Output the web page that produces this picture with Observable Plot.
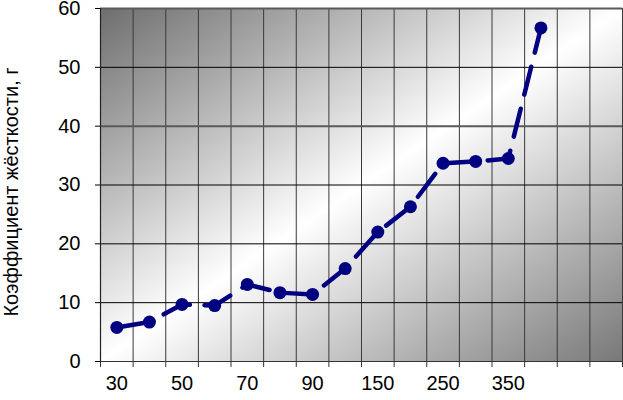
<!DOCTYPE html>
<html>
<head>
<meta charset="utf-8">
<script src="https://cdn.jsdelivr.net/npm/d3@7"></script>
<script src="https://cdn.jsdelivr.net/npm/@observablehq/plot@0.6"></script>
<style>
  html, body { margin: 0; padding: 0; background: #ffffff; }
  #chart { width: 623px; height: 400px; }
  #chart svg text { font-size: 20px !important; font-family: 'Liberation Sans', Arial, sans-serif !important; fill: #000; }
</style>
</head>
<body>
<div id="chart"></div>
<script>
// Categories along x (16 bands; the last two are empty)
const categories = ["30", "40", "50", "60", "70", "80", "90", "100", "150", "200", "250", "300", "350", "400", "450", "500"];
// Measured stiffness values, one per leading category
const stiffness = [5.8, 6.7, 9.7, 9.5, 13.1, 11.7, 11.4, 15.8, 22.0, 26.3, 33.7, 34.0, 34.5, 56.7];
// Tick labels shown on x axis
const xTickLabels = ["30", "50", "70", "90", "150", "250", "350"];
// y ticks
const yTicks = [0, 10, 20, 30, 40, 50, 60];
const yTitle = "Коэффициент жёсткости, г";

const data = stiffness.map((v, i) => ({i, cat: categories[i], v}));
const bounds = d3.range(-0.5, categories.length, 1);
const labelIdx = xTickLabels.map(l => categories.indexOf(l));

const defs = () => {
  const d = d3.create("svg:defs");
  const g = d.append("linearGradient").attr("id", "bg")
    .attr("x1", 0).attr("y1", 0).attr("x2", 1).attr("y2", 1);
  g.append("stop").attr("offset", "0%").attr("stop-color", "#6e6e6e");
  g.append("stop").attr("offset", "50%").attr("stop-color", "#ffffff");
  g.append("stop").attr("offset", "100%").attr("stop-color", "#787878");
  return d.node();
};

const chart = Plot.plot({
  width: 623,
  height: 400,
  marginLeft: 100,
  marginRight: 1,
  marginTop: 8,
  marginBottom: 39,
  style: {fontFamily: "'Liberation Sans', Arial, sans-serif", fontSize: "20px", background: "#ffffff", color: "#000"},
  x: {
    type: "linear",
    domain: [-0.5, categories.length - 0.5],
    ticks: labelIdx,
    tickFormat: i => categories[i],
    tickSize: 0,
    tickPadding: 14,
    label: null
  },
  y: {
    domain: [0, 60],
    ticks: yTicks,
    tickSize: 5,
    tickPadding: 15,
    label: null
  },
  marks: [
    defs,
    Plot.frame({fill: "url(#bg)", stroke: null}),
    Plot.ruleX(bounds, {stroke: "#3a3a3a", strokeWidth: 1}),
    Plot.ruleY([10, 20, 30, 50], {stroke: "#000", strokeWidth: 1}),
    Plot.ruleY([40, 60], {stroke: "#5a5a5a", strokeWidth: 2}),
    Plot.ruleX(bounds, {x: d => d, y1: 0, y2: 0, insetBottom: -6, stroke: "#333"}),
    Plot.ruleY([0], {stroke: "#333", strokeWidth: 1.2}),
    Plot.ruleX([-0.5], {stroke: "#222", strokeWidth: 1.2}),
    Plot.line(data, {x: "i", y: "v", stroke: "#000080", strokeWidth: 4.5, strokeDasharray: "28.7,14.6", strokeDashoffset: -6, strokeLinecap: "round"}),
    Plot.dot(data, {x: "i", y: "v", r: 6.5, fill: "#000080", stroke: null}),
    Plot.text([yTitle], {frameAnchor: "left", rotate: -90, dx: -89, dy: 7, textAnchor: "middle", fontSize: 20, fill: "#000"})
  ]
});
document.getElementById("chart").appendChild(chart);
</script>
</body>
</html>
